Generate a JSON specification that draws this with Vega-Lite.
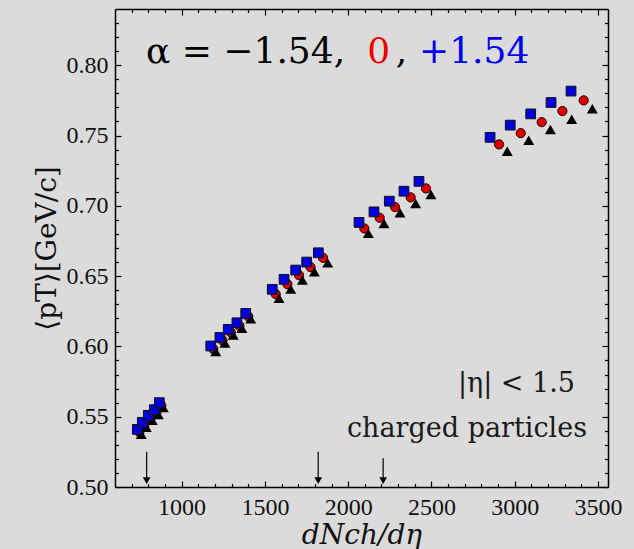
{
  "$schema": "https://vega.github.io/schema/vega-lite/v6.json",
  "width": 493,
  "height": 478,
  "autosize": {"type": "none"},
  "padding": {"left": 115, "top": 9, "right": 26, "bottom": 62},
  "background": "#dbdbdb",
  "config": {
    "view": {"stroke": null},
    "axis": {
      "domainColor": "#000",
      "domainWidth": 1.5,
      "tickColor": "#000",
      "tickWidth": 1.2,
      "grid": false,
      "labelFont": "Liberation Serif",
      "labelFontSize": 24,
      "labelColor": "#111",
      "titleFont": "DejaVu Serif",
      "titleFontWeight": "normal",
      "titleColor": "#111"
    }
  },
  "datasets": {
    "pts": [
      {"series": "+1.54", "x": 734, "y": 0.541}, {"series": "+1.54", "x": 764, "y": 0.546}, {"series": "+1.54", "x": 800, "y": 0.551}, {"series": "+1.54", "x": 836, "y": 0.555}, {"series": "+1.54", "x": 866, "y": 0.560},
      {"series": "+1.54", "x": 1175, "y": 0.6003}, {"series": "+1.54", "x": 1230, "y": 0.6064}, {"series": "+1.54", "x": 1280, "y": 0.6121}, {"series": "+1.54", "x": 1332, "y": 0.6168}, {"series": "+1.54", "x": 1385, "y": 0.6235},
      {"series": "+1.54", "x": 1544, "y": 0.6406}, {"series": "+1.54", "x": 1615, "y": 0.6477}, {"series": "+1.54", "x": 1685, "y": 0.6543}, {"series": "+1.54", "x": 1751, "y": 0.6600}, {"series": "+1.54", "x": 1821, "y": 0.6666},
      {"series": "+1.54", "x": 2065, "y": 0.6882}, {"series": "+1.54", "x": 2155, "y": 0.6957}, {"series": "+1.54", "x": 2247, "y": 0.7033}, {"series": "+1.54", "x": 2335, "y": 0.7104}, {"series": "+1.54", "x": 2425, "y": 0.7174},
      {"series": "+1.54", "x": 2852, "y": 0.7487}, {"series": "+1.54", "x": 2973, "y": 0.7574}, {"series": "+1.54", "x": 3096, "y": 0.7654}, {"series": "+1.54", "x": 3218, "y": 0.7735}, {"series": "+1.54", "x": 3338, "y": 0.7816},
      {"series": "0", "x": 746, "y": 0.539}, {"series": "0", "x": 776, "y": 0.544}, {"series": "0", "x": 812, "y": 0.549}, {"series": "0", "x": 848, "y": 0.553}, {"series": "0", "x": 878, "y": 0.558},
      {"series": "0", "x": 1190, "y": 0.5982}, {"series": "0", "x": 1245, "y": 0.6043}, {"series": "0", "x": 1295, "y": 0.6100}, {"series": "0", "x": 1347, "y": 0.6147}, {"series": "0", "x": 1400, "y": 0.6214},
      {"series": "0", "x": 1565, "y": 0.6372}, {"series": "0", "x": 1635, "y": 0.6443}, {"series": "0", "x": 1705, "y": 0.6507}, {"series": "0", "x": 1774, "y": 0.6564}, {"series": "0", "x": 1849, "y": 0.6630},
      {"series": "0", "x": 2097, "y": 0.6839}, {"series": "0", "x": 2189, "y": 0.6915}, {"series": "0", "x": 2281, "y": 0.6991}, {"series": "0", "x": 2375, "y": 0.7060}, {"series": "0", "x": 2467, "y": 0.7124},
      {"series": "0", "x": 2906, "y": 0.7437}, {"series": "0", "x": 3036, "y": 0.7517}, {"series": "0", "x": 3162, "y": 0.7595}, {"series": "0", "x": 3286, "y": 0.7674}, {"series": "0", "x": 3414, "y": 0.7750},
      {"series": "-1.54", "x": 758, "y": 0.5375}, {"series": "-1.54", "x": 788, "y": 0.5425}, {"series": "-1.54", "x": 824, "y": 0.5475}, {"series": "-1.54", "x": 860, "y": 0.5515}, {"series": "-1.54", "x": 890, "y": 0.5565},
      {"series": "-1.54", "x": 1205, "y": 0.5964}, {"series": "-1.54", "x": 1260, "y": 0.6025}, {"series": "-1.54", "x": 1310, "y": 0.6082}, {"series": "-1.54", "x": 1362, "y": 0.6129}, {"series": "-1.54", "x": 1415, "y": 0.6196},
      {"series": "-1.54", "x": 1585, "y": 0.6342}, {"series": "-1.54", "x": 1655, "y": 0.6408}, {"series": "-1.54", "x": 1725, "y": 0.6472}, {"series": "-1.54", "x": 1797, "y": 0.6531}, {"series": "-1.54", "x": 1877, "y": 0.6595},
      {"series": "-1.54", "x": 2121, "y": 0.6804}, {"series": "-1.54", "x": 2215, "y": 0.6875}, {"series": "-1.54", "x": 2311, "y": 0.6950}, {"series": "-1.54", "x": 2405, "y": 0.7017}, {"series": "-1.54", "x": 2497, "y": 0.7081},
      {"series": "-1.54", "x": 2955, "y": 0.7389}, {"series": "-1.54", "x": 3084, "y": 0.7467}, {"series": "-1.54", "x": 3214, "y": 0.7543}, {"series": "-1.54", "x": 3342, "y": 0.7616}, {"series": "-1.54", "x": 3466, "y": 0.7690}
    ],
    "arrows": [
      {"x": 790, "y1": 0.525, "y2": 0.5045},
      {"x": 1820, "y1": 0.525, "y2": 0.5045},
      {"x": 2210, "y1": 0.5205, "y2": 0.5045}
    ],
    "title": [
      {"label": "α = −1.54,", "x": 786, "y": 0.8015, "tone": "k"},
      {"label": "0", "x": 2115, "y": 0.8015, "tone": "r"},
      {"label": ",", "x": 2285, "y": 0.8015, "tone": "k"},
      {"label": "+1.54", "x": 2425, "y": 0.8015, "tone": "b"}
    ],
    "notes": [
      {"label": "|η| < 1.5", "x": 3362, "y": 0.5675},
      {"label": "charged particles", "x": 3434, "y": 0.5356}
    ]
  },
  "resolve": {"axis": {"x": "independent", "y": "independent"}},
  "layer": [
    {
      "data": {"name": "pts"},
      "transform": [{"filter": "datum.series === '0'"}],
      "mark": {"type": "point", "shape": "circle", "filled": true, "size": 85, "fill": "#dd0000", "stroke": "#220000", "strokeWidth": 1, "opacity": 1},
      "encoding": {
        "x": {"field": "x", "type": "quantitative", "scale": {"domain": [600, 3560], "nice": false, "zero": false},
          "axis": {"orient": "bottom", "values": [1000, 1500, 2000, 2500, 3000, 3500], "format": "d", "tickSize": -6, "labelPadding": 14, "labelFlush": false,
            "labelFont": "Liberation Serif", "labelFontSize": 24,
            "title": "dNch/dη", "titleFontSize": 28, "titleFontStyle": "italic", "titlePadding": 2}},
        "y": {"field": "y", "type": "quantitative", "scale": {"domain": [0.5, 0.84], "nice": false, "zero": false},
          "axis": {"orient": "left", "values": [0.5, 0.55, 0.6, 0.65, 0.7, 0.75, 0.8], "format": ".2f", "tickSize": -6, "labelPadding": 13, "labelFlush": false,
            "labelFont": "Liberation Serif", "labelFontSize": 24,
            "title": "⟨pT⟩[GeV/c]", "titleFontSize": 28, "titlePadding": 5}}
      }
    },
    {
      "data": {"name": "pts"},
      "transform": [{"filter": "datum.series === '-1.54'"}],
      "mark": {"type": "point", "shape": "triangle-up", "filled": true, "size": 120, "color": "#000", "opacity": 1},
      "encoding": {
        "x": {"field": "x", "type": "quantitative",
          "axis": {"orient": "bottom", "values": [700, 800, 900, 1100, 1200, 1300, 1400, 1600, 1700, 1800, 1900, 2100, 2200, 2300, 2400, 2600, 2700, 2800, 2900, 3100, 3200, 3300, 3400], "tickSize": -3.5, "labels": false, "domain": false, "title": null}},
        "y": {"field": "y", "type": "quantitative",
          "axis": {"orient": "left", "values": [0.51, 0.52, 0.53, 0.54, 0.56, 0.57, 0.58, 0.59, 0.61, 0.62, 0.63, 0.64, 0.66, 0.67, 0.68, 0.69, 0.71, 0.72, 0.73, 0.74, 0.76, 0.77, 0.78, 0.79, 0.81, 0.82, 0.83], "tickSize": -3.5, "labels": false, "domain": false, "title": null}}
      }
    },
    {
      "data": {"name": "pts"},
      "transform": [{"filter": "datum.series === '+1.54'"}],
      "mark": {"type": "point", "shape": "square", "filled": true, "size": 95, "fill": "#0000dd", "stroke": "#111111", "strokeWidth": 1, "opacity": 1},
      "encoding": {
        "x": {"field": "x", "type": "quantitative",
          "axis": {"orient": "top", "values": [1000, 1500, 2000, 2500, 3000, 3500], "tickSize": -6, "labels": false, "title": null}},
        "y": {"field": "y", "type": "quantitative",
          "axis": {"orient": "right", "values": [0.5, 0.55, 0.6, 0.65, 0.7, 0.75, 0.8], "tickSize": -6, "labels": false, "title": null}}
      }
    },
    {
      "data": {"name": "arrows"},
      "mark": {"type": "rule", "color": "#000", "strokeWidth": 1.2},
      "encoding": {
        "x": {"field": "x", "type": "quantitative",
          "axis": {"orient": "top", "values": [700, 800, 900, 1100, 1200, 1300, 1400, 1600, 1700, 1800, 1900, 2100, 2200, 2300, 2400, 2600, 2700, 2800, 2900, 3100, 3200, 3300, 3400], "tickSize": -3.5, "labels": false, "domain": false, "title": null}},
        "y": {"field": "y1", "type": "quantitative",
          "axis": {"orient": "right", "values": [0.51, 0.52, 0.53, 0.54, 0.56, 0.57, 0.58, 0.59, 0.61, 0.62, 0.63, 0.64, 0.66, 0.67, 0.68, 0.69, 0.71, 0.72, 0.73, 0.74, 0.76, 0.77, 0.78, 0.79, 0.81, 0.82, 0.83], "tickSize": -3.5, "labels": false, "domain": false, "title": null}},
        "y2": {"field": "y2"}
      }
    },
    {
      "data": {"name": "arrows"},
      "mark": {"type": "point", "shape": "triangle-down", "filled": true, "size": 60, "color": "#000", "opacity": 1},
      "encoding": {
        "x": {"field": "x", "type": "quantitative", "axis": null},
        "y": {"field": "y2", "type": "quantitative", "axis": null}
      }
    },
    {
      "data": {"name": "title"},
      "mark": {"type": "text", "font": "DejaVu Serif", "fontSize": 36, "align": "left", "baseline": "alphabetic"},
      "encoding": {
        "x": {"field": "x", "type": "quantitative", "axis": null},
        "y": {"field": "y", "type": "quantitative", "axis": null},
        "text": {"field": "label"},
        "color": {"field": "tone", "type": "nominal", "legend": null, "scale": {"domain": ["k", "r", "b"], "range": ["#000000", "#ee0000", "#0000ee"]}}
      }
    },
    {
      "data": {"name": "notes"},
      "mark": {"type": "text", "font": "DejaVu Serif", "fontSize": 27, "align": "right", "baseline": "alphabetic", "color": "#1a1a1a"},
      "encoding": {
        "x": {"field": "x", "type": "quantitative", "axis": null},
        "y": {"field": "y", "type": "quantitative", "axis": null},
        "text": {"field": "label"}
      }
    }
  ]
}
